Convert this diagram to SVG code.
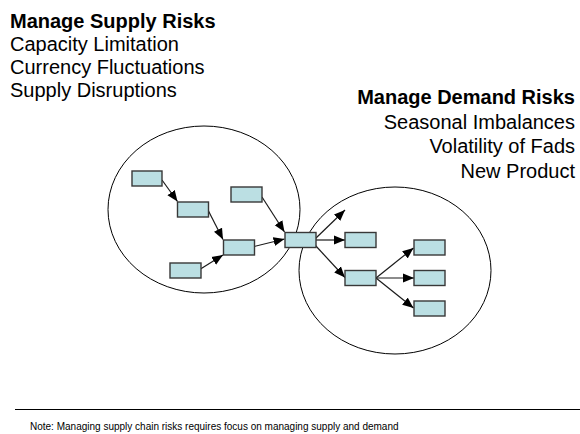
<svg xmlns="http://www.w3.org/2000/svg" width="580" height="434" viewBox="0 0 580 434">
<style>
.t{font-family:"Liberation Sans",Arial,sans-serif;font-size:20px;fill:#000}
.b{font-weight:bold}
.e{fill:none;stroke:#000;stroke-width:1}
.n{fill:#BBDFE3;stroke:#383838;stroke-width:1.4}
.c{stroke:#1a1a1a;stroke-width:1.2;fill:none;marker-end:url(#ah)}
.note{font-family:"Liberation Sans",Arial,sans-serif;font-size:10px;fill:#000}
</style>
<defs>
<marker id="ah" markerUnits="userSpaceOnUse" markerWidth="12" markerHeight="10" refX="11" refY="5" orient="auto">
<path d="M0,0.5 L11,5 L0,9.5 z" fill="#000"/>
</marker>
</defs>
<rect width="580" height="434" fill="#fff"/>
<g id="supply-text">
<text class="t b" x="10" y="28">Manage Supply Risks</text>
<text class="t" x="10" y="51">Capacity Limitation</text>
<text class="t" x="10" y="74">Currency Fluctuations</text>
<text class="t" x="10" y="97">Supply Disruptions</text>
</g>
<g id="demand-text">
<text class="t b" x="575" y="104" text-anchor="end">Manage Demand Risks</text>
<text class="t" x="575" y="128.5" text-anchor="end">Seasonal Imbalances</text>
<text class="t" x="575" y="153" text-anchor="end">Volatility of Fads</text>
<text class="t" x="575" y="177.5" text-anchor="end">New Product</text>
</g>
<g id="supply-ellipse"><ellipse class="e" cx="204" cy="209.5" rx="96" ry="83.5"/></g>
<g id="demand-ellipse"><ellipse class="e" cx="395" cy="270.5" rx="96" ry="83.5"/></g>
<g id="connectors">
<line class="c" x1="162" y1="180" x2="177.5" y2="201.5"/>
<line class="c" x1="208" y1="210" x2="223" y2="239.5"/>
<line class="c" x1="262" y1="197" x2="284.5" y2="232"/>
<line class="c" x1="254" y1="246.5" x2="284.5" y2="239"/>
<line class="c" x1="200.5" y1="269" x2="223" y2="255"/>
<line class="c" x1="315.5" y1="238.5" x2="345" y2="210"/>
<line class="c" x1="316" y1="240" x2="345" y2="240"/>
<line class="c" x1="315" y1="245" x2="345" y2="277.5"/>
<line class="c" x1="376" y1="278" x2="413.5" y2="248"/>
<line class="c" x1="376" y1="278" x2="414" y2="278"/>
<line class="c" x1="376" y1="278" x2="413.5" y2="308"/>
</g>
<g id="node-a"><rect class="n" x="132" y="171" width="30" height="15"/></g>
<g id="node-b"><rect class="n" x="177.5" y="202" width="31" height="15"/></g>
<g id="node-c"><rect class="n" x="231" y="187" width="31" height="15"/></g>
<g id="node-d"><rect class="n" x="223.5" y="240" width="31" height="15"/></g>
<g id="node-e"><rect class="n" x="170" y="263" width="31" height="15"/></g>
<g id="node-hub"><rect class="n" x="285" y="232.5" width="31" height="15"/></g>
<g id="node-g"><rect class="n" x="345" y="232.5" width="31" height="15"/></g>
<g id="node-h"><rect class="n" x="345" y="270.5" width="31" height="15"/></g>
<g id="node-i"><rect class="n" x="414" y="240" width="31" height="15"/></g>
<g id="node-j"><rect class="n" x="414" y="270.5" width="31" height="15"/></g>
<g id="node-k"><rect class="n" x="414" y="301" width="31" height="15"/></g>
<g id="footer">
<line x1="15" y1="409.5" x2="580" y2="409.5" stroke="#000" stroke-width="1"/>
<text class="note" x="30" y="429.5">Note: Managing supply chain risks requires focus on managing supply and demand</text>
</g>
</svg>
